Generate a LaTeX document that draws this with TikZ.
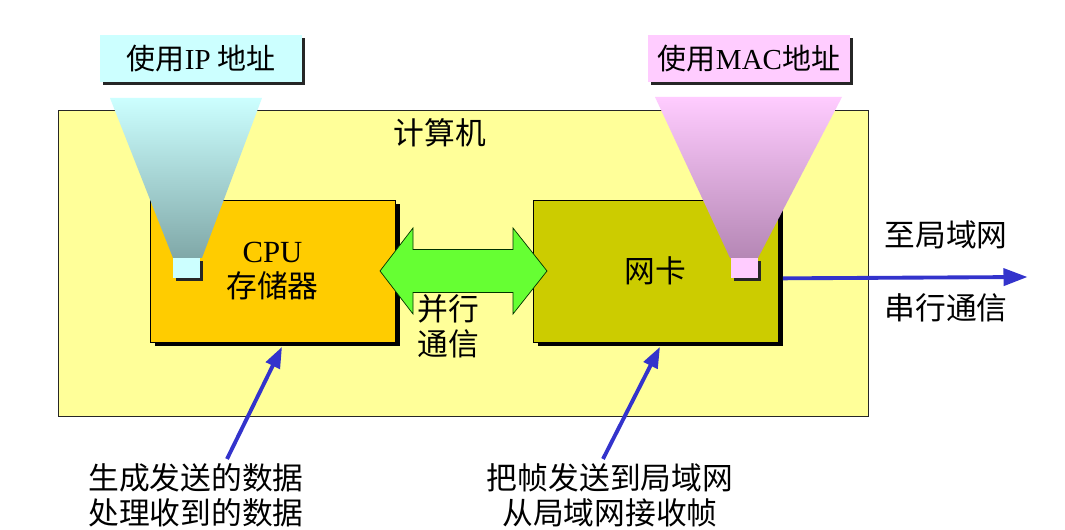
\documentclass[tikz,border=0pt]{standalone}
\usepackage{fontspec}
\setmainfont{Liberation Serif}
\newfontfamily\cjk{Noto Sans CJK SC}
\usetikzlibrary{shadows,arrows.meta}

\definecolor{pcyellow}{HTML}{FFFF99}
\definecolor{cpuorange}{HTML}{FFCC00}
\definecolor{nicolive}{HTML}{CCCC00}
\definecolor{arrowgreen}{HTML}{66FF33}
\definecolor{ipcyan}{HTML}{CCFFFF}
\definecolor{ipteal}{HTML}{80A8A8}
\definecolor{macpink}{HTML}{FFCCFF}
\definecolor{macmauve}{HTML}{B587B5}
\definecolor{linkblue}{HTML}{3333CC}

\begin{document}
\begin{tikzpicture}[
    every node/.style={font=\cjk\fontsize{17.5}{20}\selectfont, inner sep=0pt},
    boxshadow/.style={drop shadow={shadow xshift=0.09cm, shadow yshift=-0.09cm, fill=black, opacity=1}},
    smallshadow/.style={drop shadow={shadow xshift=0.06cm, shadow yshift=-0.06cm, fill=black!85, opacity=1}},
    unit/.style={draw=black, minimum width=4.9cm, minimum height=2.84cm, align=center, boxshadow},
    tag/.style={minimum width=4.04cm, minimum height=0.94cm, font=\cjk\fontsize{16.5}{19}\selectfont, smallshadow},
    port/.style={minimum width=0.54cm, minimum height=0.4cm, smallshadow},
    bluearrow/.style={linkblue, line width=2.2pt, -{Triangle[length=0.48cm,width=0.34cm]}}
  ]
  \useasboundingbox[fill=white] (0,0) rectangle (21.3,10.6);

  % computer
  \node[draw=black!85, fill=pcyellow, minimum width=16.2cm, minimum height=6.12cm] (pc) at (9.26,5.34) {};
  \node (pclabel) at (8.8,7.94) {计算机};

  \node[unit, fill=cpuorange] (cpu) at (5.45,5.18) {{\rmfamily CPU}\\存储器};
  \node[unit, fill=nicolive] (nic) at (13.11,5.18) {网卡};

  % parallel link
  \draw[draw=black!80!green, fill=arrowgreen] (7.6,5.18) -- (8.26,6.04) -- (8.26,5.61) -- (10.26,5.61) -- (10.26,6.04)
    -- (10.94,5.18) -- (10.26,4.32) -- (10.26,4.75) -- (8.26,4.75) -- (8.26,4.32) -- cycle;
  \node[align=center] (partxt) at (8.96,4.07) {并行\\通信};

  % address funnels
  \shade[top color=ipcyan, bottom color=ipteal] (2.2,8.64) -- (5.24,8.64) -- (4.04,5.44) -- (3.46,5.44) -- cycle;
  \shade[top color=macpink, bottom color=macmauve] (13.1,8.66) -- (16.84,8.66) -- (15.16,5.44) -- (14.6,5.44) -- cycle;

  \node[port, fill=ipcyan] (ipsq) at (3.73,5.24) {};
  \node[port, fill=macpink] (macsq) at (14.88,5.24) {};

  \node[tag, fill=ipcyan] (iptag) at (4.02,9.43) {使用{\rmfamily IP} 地址};
  \node[tag, fill=macpink] (mactag) at (14.98,9.43) {使用{\rmfamily MAC}地址};

  % serial link
  \coordinate (lan) at (20.55,5.06);
  \draw[bluearrow] ([xshift=0.09cm]nic.east |- macsq.south) -- (lan);
  \node (lantxt) at (18.92,5.9) {至局域网};
  \node (sertxt) at (18.92,4.44) {串行通信};

  % notes below
  \node[align=center] (cputxt) at (3.92,0.7) {生成发送的数据\\处理收到的数据};
  \node[align=center] (nictxt) at (12.2,0.7) {把帧发送到局域网\\从局域网接收帧};
  \coordinate (cputail) at (4.54,1.42);
  \coordinate (nictail) at (12.06,1.42);
  \draw[bluearrow, -{Triangle[length=0.42cm,width=0.3cm]}] (cputail) -- ([xshift=0.19cm,yshift=-0.09cm]cpu.south);
  \draw[bluearrow, -{Triangle[length=0.42cm,width=0.3cm]}] (nictail) -- ([xshift=0.09cm,yshift=-0.09cm]nic.south);
\end{tikzpicture}
\end{document}
